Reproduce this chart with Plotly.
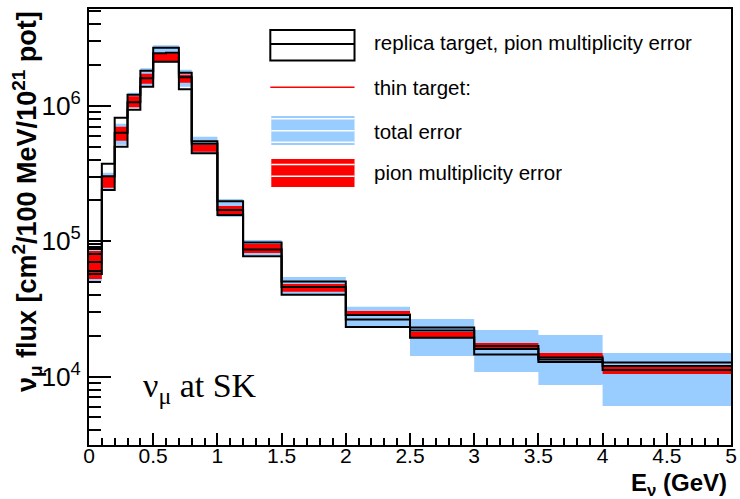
import plotly.graph_objects as go

# ---------------- data ----------------
bin_edges = [0, 0.1, 0.2, 0.3, 0.4, 0.5, 0.6, 0.7, 0.8, 1.0, 1.2, 1.5, 2.0, 2.5, 3.0, 3.5, 4.0, 5.0]

# replica target (black) central value and pion multiplicity error band
replica_central = [8.76e4, 3.01e5, 6.32e5, 1.061e6, 1.597e6, 2.445e6, 2.46e6, 1.624e6, 5.24e5,
                   1.70e5, 8.69e4, 4.59e4, 2.64e4, 2.19e4, 1.60e4, 1.336e4, 1.196e4]
replica_high = [9.54e4, 3.73e5, 8.15e5, 1.206e6, 1.815e6, 2.684e6, 2.684e6, 1.754e6, 5.47e5,
                1.97e5, 9.79e4, 5.04e4, 2.85e4, 2.30e4, 1.68e4, 1.38e4, 1.27e4]
replica_low = [5.73e4, 2.39e5, 4.98e5, 9.34e5, 1.382e6, 2.116e6, 2.116e6, 1.324e6, 4.46e5,
               1.56e5, 7.72e4, 4.01e4, 2.32e4, 1.93e4, 1.455e4, 1.28e4, 1.117e4]

# thin target (red) central value
thin_central = [6.8e4, 2.72e5, 6.21e5, 1.07e6, 1.584e6, 2.264e6, 2.27e6, 1.584e6, 4.89e5,
                1.70e5, 8.84e4, 4.51e4, 2.92e4, 2.04e4, 1.695e4, 1.43e4, 1.117e4]
# pion multiplicity error band (red)
pion_high = [8.47e4, 2.99e5, 7.00e5, 1.176e6, 1.724e6, 2.424e6, 2.43e6, 1.696e6, 5.15e5,
             1.82e5, 9.54e4, 4.83e4, 3.05e4, 2.13e4, 1.77e4, 1.49e4, 1.196e4]
pion_low = [5.26e4, 2.48e5, 5.51e5, 9.75e5, 1.454e6, 2.116e6, 2.12e6, 1.480e6, 4.57e5,
            1.59e5, 8.19e4, 4.22e4, 2.80e4, 1.96e4, 1.60e4, 1.37e4, 1.043e4]
# total error band (light blue)
total_high = [8.76e4, 3.20e5, 7.36e5, 1.248e6, 1.894e6, 2.801e6, 2.80e6, 1.846e6, 5.90e5,
              2.05e5, 1.021e5, 5.44e4, 3.27e4, 2.66e4, 2.21e4, 2.03e4, 1.49e4]
total_low = [5.08e4, 2.39e5, 5.15e5, 9.66e5, 1.406e6, 2.080e6, 2.08e6, 1.382e6, 4.42e5,
             1.51e5, 7.91e4, 4.07e4, 2.36e4, 1.42e4, 1.08e4, 8.65e3, 6.05e3]

legend_labels = ["replica target, pion multiplicity error", "thin target:",
                 "total error", "pion multiplicity error"]

BLUE = "#99ccff"
RED = "#ff0000"
FONT = "Liberation Sans"


def band_polygons(edges, lo, hi):
    xs, ys = [], []
    for i in range(len(lo)):
        x0, x1 = edges[i], edges[i + 1]
        xs += [x0, x1, x1, x0, x0, None]
        ys += [lo[i], lo[i], hi[i], hi[i], lo[i], None]
    return xs, ys


def step(vals):
    return list(vals) + [vals[-1]]


fig = go.Figure()

bx, by = band_polygons(bin_edges, total_low, total_high)
fig.add_trace(go.Scatter(x=bx, y=by, fill="toself", fillcolor=BLUE, mode="lines",
                         line=dict(width=0), hoverinfo="skip", showlegend=False))
rx, ry = band_polygons(bin_edges, pion_low, pion_high)
fig.add_trace(go.Scatter(x=rx, y=ry, fill="toself", fillcolor=RED, mode="lines",
                         line=dict(width=0), hoverinfo="skip", showlegend=False))
fig.add_trace(go.Scatter(x=bin_edges, y=step(thin_central), mode="lines", line_shape="hv",
                         line=dict(color=RED, width=1.2), showlegend=False))
for vals in (replica_high, replica_central, replica_low):
    fig.add_trace(go.Scatter(x=bin_edges, y=step(vals), mode="lines", line_shape="hv",
                             line=dict(color="black", width=2), showlegend=False))

# ---------------- layout ----------------
L, R, T, B = 89, 3, 9, 54
W, H = 740, 499
pw, ph = W - L - R, H - T - B


def px(xp):
    return (xp - L) / pw


def py(yp):
    return (H - B - yp) / ph


fig.update_layout(
    width=W, height=H,
    margin=dict(l=L, r=R, t=T, b=B),
    paper_bgcolor="white", plot_bgcolor="white",
    font=dict(family=FONT, color="black"),
    showlegend=False,
)
fig.update_xaxes(
    range=[0, 5], dtick=0.5, tick0=0,
    showline=True, linecolor="black", linewidth=2, mirror=True,
    ticks="inside", ticklen=12, tickwidth=2, tickcolor="black",
    minor=dict(ticks="inside", ticklen=7, tickwidth=2, tickcolor="black", dtick=0.1),
    showgrid=False, zeroline=False,
    tickfont=dict(size=21, family=FONT),
    ticklabeloverflow="allow", ticklabelstandoff=-9,
)
fig.update_yaxes(
    type="log", range=[3.494, 6.715], dtick=1, exponentformat="power",
    showline=True, linecolor="black", linewidth=2, mirror=True,
    ticks="inside", ticklen=22, tickwidth=2, tickcolor="black",
    minor=dict(ticks="inside", ticklen=12, tickwidth=2, tickcolor="black"),
    showgrid=False, zeroline=False,
    tickfont=dict(size=21, family=FONT),
    ticklabelstandoff=2,
)

# axis titles
fig.add_annotation(text="<b>E<sub>ν</sub> (GeV)</b>", xref="paper", yref="paper",
                   x=px(735), y=py(485), xanchor="right", yanchor="middle",
                   showarrow=False, font=dict(size=24, family=FONT))
fig.add_annotation(text="<b>ν<sub>μ</sub> flux [cm<sup>2</sup>/100 MeV/10<sup>21</sup> pot]</b>",
                   xref="paper", yref="paper", x=px(26), y=py(9),
                   xanchor="center", yanchor="top", textangle=-90,
                   showarrow=False, font=dict(size=27, family=FONT))

# in-plot label
fig.add_annotation(text="ν<sub>μ</sub> at SK", xref="paper", yref="paper",
                   x=px(141), y=py(388), xanchor="left", yanchor="middle",
                   showarrow=False, font=dict(size=34, family="Liberation Serif"))

# legend (drawn manually)
x0l, x1l = px(272), px(357)
fig.add_shape(type="rect", xref="paper", yref="paper", x0=x0l, x1=x1l, y0=py(60.5), y1=py(30),
              line=dict(color="black", width=2), fillcolor="rgba(0,0,0,0)")
fig.add_shape(type="line", xref="paper", yref="paper", x0=x0l, x1=x1l, y0=py(44), y1=py(44),
              line=dict(color="black", width=2))
fig.add_shape(type="line", xref="paper", yref="paper", x0=x0l, x1=x1l, y0=py(87.3), y1=py(87.3),
              line=dict(color=RED, width=1.5))
fig.add_shape(type="rect", xref="paper", yref="paper", x0=px(273), x1=x1l, y0=py(145), y1=py(116),
              line=dict(width=0), fillcolor=BLUE)
for yy in (118.8, 130.8, 142.3):
    fig.add_shape(type="line", xref="paper", yref="paper", x0=px(273), x1=x1l, y0=py(yy), y1=py(yy),
                  line=dict(color="white", width=1.5))
fig.add_shape(type="rect", xref="paper", yref="paper", x0=px(273), x1=x1l, y0=py(187), y1=py(159),
              line=dict(width=0), fillcolor=RED)
for yy in (164.5, 176.3):
    fig.add_shape(type="line", xref="paper", yref="paper", x0=px(273), x1=x1l, y0=py(yy), y1=py(yy),
                  line=dict(color="white", width=1.5))

for lab, yy in zip(legend_labels, (43, 87, 131, 173)):
    fig.add_annotation(text=lab, xref="paper", yref="paper", x=px(375), y=py(yy),
                       xanchor="left", yanchor="middle", showarrow=False,
                       font=dict(size=20.5, family=FONT))

fig.write_html("out.html")
